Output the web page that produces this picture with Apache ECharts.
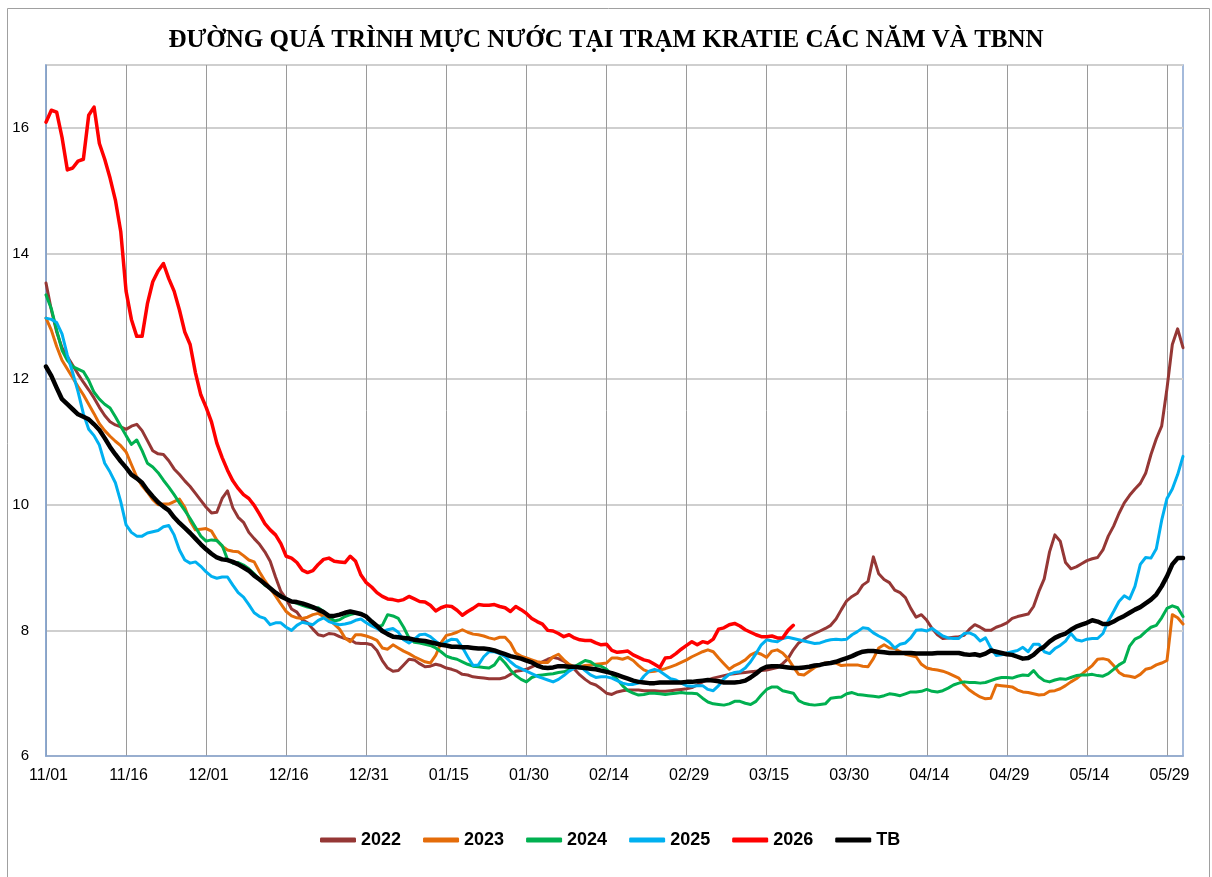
<!DOCTYPE html>
<html>
<head>
<meta charset="utf-8">
<script src="https://cdn.jsdelivr.net/npm/echarts@6/dist/echarts.min.js"></script>
<style>
html,body{margin:0;padding:0;background:#fff;}
#chart{width:1212px;height:877px;}
</style>
</head>
<body>
<div id="chart"></div>
<script>
// ---- data ----
var startDate = '2023-11-01';
var dayCount = 214;
var tickLabels = ['11/01','11/16','12/01','12/16','12/31','01/15','01/30','02/14','02/29','03/15','03/30','04/14','04/29','05/14','05/29'];
var seriesNames = ['2022','2023','2024','2025','2026','TB'];

var y2022 = [13.53,13.10,12.75,12.50,12.36,12.22,12.08,11.95,11.83,11.70,11.55,11.42,11.32,11.27,11.24,11.20,11.25,11.28,11.18,11.02,
10.86,10.81,10.80,10.70,10.57,10.48,10.38,10.29,10.18,10.07,9.96,9.87,9.88,10.10,10.22,9.95,9.80,9.72,9.56,9.46,
9.37,9.25,9.10,8.85,8.62,8.50,8.34,8.29,8.17,8.12,8.02,7.93,7.91,7.95,7.94,7.90,7.87,7.85,7.80,7.79,
7.79,7.77,7.68,7.52,7.40,7.35,7.36,7.45,7.54,7.53,7.47,7.42,7.43,7.46,7.44,7.40,7.38,7.35,7.30,7.29,
7.26,7.25,7.24,7.23,7.23,7.23,7.25,7.30,7.35,7.36,7.38,7.42,7.46,7.50,7.54,7.57,7.55,7.51,7.45,7.38,
7.29,7.22,7.16,7.13,7.07,7.00,6.98,7.02,7.04,7.05,7.05,7.05,7.04,7.04,7.04,7.03,7.03,7.04,7.05,7.06,
7.07,7.09,7.13,7.18,7.21,7.24,7.26,7.28,7.30,7.31,7.32,7.33,7.34,7.35,7.36,7.37,7.39,7.41,7.47,7.55,
7.69,7.80,7.86,7.91,7.95,7.99,8.03,8.08,8.18,8.33,8.47,8.54,8.59,8.72,8.78,9.17,8.90,8.81,8.76,8.64,
8.60,8.52,8.35,8.21,8.25,8.16,8.03,7.93,7.87,7.88,7.89,7.90,7.92,8.02,8.09,8.05,8.00,8.00,8.05,8.08,
8.12,8.19,8.22,8.24,8.26,8.38,8.62,8.82,9.25,9.52,9.42,9.08,8.98,9.01,9.06,9.11,9.14,9.16,9.28,9.50,
9.66,9.86,10.03,10.15,10.25,10.34,10.50,10.80,11.05,11.25,11.85,12.55,12.80,12.50];

var y2023 = [12.97,12.78,12.52,12.30,12.16,12.02,11.88,11.75,11.60,11.45,11.29,11.18,11.09,11.01,10.94,10.84,10.64,10.44,10.30,10.20,
10.08,10.00,10.01,10.01,10.05,10.09,9.96,9.74,9.60,9.61,9.62,9.58,9.44,9.34,9.28,9.26,9.25,9.19,9.12,9.09,
8.93,8.79,8.67,8.55,8.42,8.30,8.23,8.20,8.19,8.21,8.25,8.27,8.22,8.17,8.10,8.02,7.88,7.82,7.93,7.93,
7.91,7.88,7.84,7.72,7.70,7.77,7.72,7.67,7.63,7.58,7.54,7.50,7.48,7.60,7.80,7.92,7.94,7.97,8.01,7.97,
7.94,7.93,7.91,7.88,7.86,7.89,7.89,7.80,7.64,7.59,7.56,7.53,7.50,7.49,7.49,7.58,7.62,7.53,7.46,7.42,
7.42,7.44,7.45,7.46,7.47,7.48,7.56,7.56,7.54,7.57,7.52,7.44,7.37,7.34,7.35,7.37,7.39,7.42,7.45,7.49,
7.53,7.58,7.62,7.66,7.69,7.66,7.56,7.47,7.38,7.44,7.48,7.53,7.61,7.65,7.62,7.57,7.67,7.69,7.64,7.55,
7.42,7.30,7.29,7.35,7.41,7.45,7.48,7.49,7.48,7.44,7.45,7.45,7.45,7.43,7.42,7.55,7.72,7.77,7.72,7.71,
7.66,7.62,7.60,7.58,7.46,7.40,7.38,7.37,7.35,7.32,7.28,7.24,7.13,7.05,6.99,6.94,6.91,6.92,7.13,7.12,
7.11,7.10,7.05,7.02,7.01,6.99,6.97,6.98,7.03,7.04,7.07,7.12,7.18,7.23,7.30,7.37,7.44,7.54,7.55,7.53,
7.44,7.33,7.28,7.27,7.25,7.30,7.38,7.40,7.45,7.48,7.52,8.25,8.20,8.10];

var y2024 = [13.34,13.12,12.78,12.46,12.30,12.20,12.16,12.12,11.98,11.79,11.68,11.60,11.54,11.40,11.25,11.10,10.96,11.03,10.86,10.66,
10.60,10.51,10.39,10.28,10.16,10.03,9.91,9.78,9.64,9.50,9.42,9.44,9.43,9.35,9.13,9.07,9.08,9.04,8.98,8.90,
8.81,8.72,8.67,8.60,8.55,8.50,8.46,8.43,8.40,8.37,8.35,8.36,8.30,8.22,8.15,8.17,8.22,8.25,8.27,8.27,
8.22,8.13,8.06,8.08,8.25,8.23,8.19,8.05,7.88,7.81,7.80,7.78,7.76,7.72,7.66,7.59,7.56,7.54,7.50,7.46,
7.43,7.42,7.41,7.40,7.45,7.57,7.48,7.37,7.28,7.22,7.18,7.25,7.28,7.29,7.30,7.31,7.33,7.34,7.37,7.42,
7.47,7.52,7.50,7.44,7.43,7.38,7.30,7.22,7.12,7.04,7.00,6.97,6.98,7.00,7.00,6.99,6.98,6.99,7.00,7.01,
7.00,7.00,6.99,6.92,6.86,6.83,6.82,6.81,6.83,6.87,6.87,6.84,6.82,6.87,6.97,7.06,7.10,7.10,7.04,7.02,
7.00,6.88,6.84,6.82,6.81,6.82,6.83,6.92,6.93,6.94,6.99,7.01,6.98,6.97,6.96,6.95,6.94,6.96,6.99,6.98,
6.96,6.99,7.02,7.02,7.03,7.06,7.03,7.02,7.04,7.08,7.13,7.16,7.18,7.17,7.17,7.16,7.17,7.20,7.23,7.25,
7.25,7.24,7.27,7.29,7.28,7.36,7.26,7.20,7.18,7.21,7.23,7.22,7.25,7.28,7.29,7.29,7.30,7.28,7.27,7.31,
7.38,7.45,7.50,7.75,7.86,7.90,7.98,8.05,8.08,8.20,8.35,8.39,8.36,8.22];

var y2025 = [12.97,12.95,12.90,12.72,12.38,12.10,11.80,11.45,11.20,11.10,10.95,10.66,10.52,10.35,10.05,9.68,9.56,9.50,9.50,9.55,
9.57,9.59,9.65,9.67,9.52,9.28,9.12,9.07,9.09,9.02,8.93,8.86,8.83,8.85,8.85,8.72,8.60,8.53,8.41,8.28,
8.22,8.19,8.09,8.12,8.12,8.05,8.00,8.08,8.13,8.11,8.09,8.16,8.20,8.14,8.11,8.09,8.10,8.12,8.16,8.18,
8.12,8.07,8.03,7.98,8.01,8.03,7.97,7.85,7.80,7.86,7.93,7.94,7.90,7.83,7.76,7.82,7.86,7.85,7.73,7.58,
7.44,7.45,7.58,7.66,7.66,7.63,7.58,7.50,7.43,7.39,7.35,7.31,7.27,7.24,7.21,7.18,7.22,7.28,7.35,7.40,
7.43,7.36,7.29,7.25,7.26,7.26,7.24,7.20,7.16,7.14,7.14,7.16,7.27,7.35,7.38,7.35,7.29,7.23,7.21,7.16,
7.12,7.11,7.12,7.12,7.06,7.04,7.12,7.23,7.30,7.33,7.34,7.40,7.50,7.63,7.77,7.85,7.83,7.82,7.87,7.89,
7.87,7.85,7.83,7.81,7.79,7.80,7.83,7.85,7.86,7.85,7.86,7.93,7.98,8.04,8.03,7.96,7.91,7.87,7.81,7.72,
7.78,7.80,7.88,8.00,8.01,7.99,8.03,7.97,7.91,7.88,7.87,7.87,7.95,7.96,7.92,7.83,7.88,7.72,7.60,7.61,
7.64,7.66,7.68,7.73,7.66,7.78,7.78,7.66,7.63,7.71,7.76,7.83,7.95,7.85,7.83,7.86,7.87,7.87,7.95,8.15,
8.30,8.46,8.55,8.50,8.70,9.05,9.16,9.15,9.30,9.75,10.10,10.25,10.48,10.77];

var y2026 = [16.09,16.28,16.25,15.85,15.33,15.36,15.47,15.50,16.20,16.33,15.75,15.50,15.20,14.85,14.35,13.40,12.95,12.68,12.68,13.20,
13.55,13.72,13.84,13.60,13.40,13.10,12.75,12.55,12.10,11.75,11.55,11.32,10.98,10.75,10.55,10.38,10.26,10.16,10.10,9.99,
9.85,9.70,9.60,9.52,9.38,9.18,9.15,9.08,8.96,8.92,8.95,9.05,9.13,9.15,9.10,9.09,9.08,9.18,9.10,8.88,
8.76,8.69,8.60,8.54,8.50,8.49,8.47,8.49,8.54,8.50,8.46,8.45,8.40,8.31,8.36,8.39,8.38,8.32,8.24,8.30,
8.35,8.41,8.40,8.40,8.41,8.38,8.36,8.30,8.38,8.33,8.27,8.19,8.14,8.10,8.00,7.99,7.95,7.90,7.93,7.88,
7.85,7.84,7.84,7.80,7.77,7.78,7.68,7.65,7.66,7.67,7.61,7.57,7.53,7.51,7.46,7.41,7.56,7.57,7.63,7.70,
7.76,7.82,7.77,7.82,7.80,7.86,8.02,8.04,8.09,8.11,8.07,8.01,7.97,7.93,7.90,7.90,7.91,7.88,7.88,8.00,
8.08];

var yTB = [12.20,12.05,11.86,11.68,11.60,11.52,11.44,11.40,11.36,11.28,11.19,11.06,10.92,10.80,10.69,10.59,10.48,10.42,10.35,10.23,
10.13,10.04,9.97,9.91,9.80,9.71,9.63,9.55,9.46,9.37,9.29,9.22,9.16,9.13,9.12,9.09,9.05,9.00,8.95,8.87,
8.81,8.74,8.67,8.60,8.54,8.50,8.46,8.45,8.43,8.40,8.37,8.33,8.29,8.23,8.23,8.25,8.28,8.30,8.28,8.26,
8.22,8.14,8.07,7.99,7.94,7.90,7.89,7.88,7.87,7.85,7.84,7.83,7.81,7.79,7.77,7.76,7.74,7.74,7.73,7.73,
7.72,7.71,7.71,7.70,7.68,7.65,7.62,7.59,7.57,7.55,7.52,7.49,7.44,7.41,7.40,7.41,7.43,7.43,7.42,7.42,
7.41,7.40,7.39,7.38,7.36,7.34,7.32,7.29,7.26,7.23,7.20,7.18,7.17,7.16,7.16,7.17,7.17,7.17,7.17,7.17,
7.18,7.18,7.19,7.20,7.21,7.20,7.19,7.17,7.17,7.17,7.18,7.20,7.25,7.31,7.38,7.42,7.43,7.43,7.42,7.41,
7.40,7.40,7.41,7.42,7.44,7.45,7.47,7.48,7.50,7.53,7.56,7.59,7.63,7.66,7.67,7.67,7.66,7.65,7.64,7.64,
7.64,7.64,7.64,7.63,7.63,7.63,7.63,7.64,7.64,7.64,7.64,7.64,7.62,7.61,7.62,7.60,7.63,7.68,7.66,7.64,
7.62,7.61,7.58,7.55,7.56,7.61,7.69,7.74,7.82,7.88,7.92,7.95,8.01,8.06,8.09,8.12,8.16,8.14,8.10,8.10,
8.14,8.19,8.23,8.28,8.33,8.37,8.43,8.49,8.57,8.70,8.86,9.05,9.15,9.15];

var seriesColors = ['#953735','#E46C0A','#00B050','#00B0F0','#FF0000','#000000'];

// ---- categories (daily dates) ----
var categories = [];
(function(){
  var d = new Date(startDate + 'T00:00:00Z');
  for (var i = 0; i < dayCount; i++) {
    var m = d.getUTCMonth() + 1, dd = d.getUTCDate();
    categories.push((m < 10 ? '0' : '') + m + '/' + (dd < 10 ? '0' : '') + dd);
    d.setUTCDate(d.getUTCDate() + 1);
  }
})();

var chart = echarts.init(document.getElementById('chart'), null, {renderer: 'canvas'});
var allData = [y2022, y2023, y2024, y2025, y2026, yTB];
var widths = [3, 3, 3, 3, 3.5, 4.5];
var isTick = function (idx, val) { return tickLabels.indexOf(categories[idx]) >= 0; };

chart.setOption({
  animation: false,
  backgroundColor: '#ffffff',
  title: {
    text: 'ĐƯỜNG QUÁ TRÌNH MỰC NƯỚC TẠI TRẠM KRATIE CÁC NĂM VÀ TBNN',
    left: 'center', top: 23,
    textStyle: {fontFamily: 'Liberation Serif', fontWeight: 'bold', fontSize: 25, color: '#000'}
  },
  graphic: [{
    type: 'rect', left: 5, top: 6, shape: {width: 1202, height: 870},
    style: {fill: 'none', stroke: '#a0a0a0', lineWidth: 1}, silent: true, z: -1
  }],
  legend: {
    bottom: 23, left: 315,
    itemWidth: 36, itemHeight: 5, itemGap: 22,
    icon: 'roundRect',
    textStyle: {fontFamily: 'Liberation Sans', fontWeight: 'bold', fontSize: 18, color: '#000'},
    data: seriesNames
  },
  grid: {
    left: 46, right: 29, top: 65, bottom: 121,
    show: true, borderColor: '#86a4cf', borderWidth: 1.5
  },
  xAxis: {
    type: 'category', data: categories, boundaryGap: false,
    axisLine: {lineStyle: {color: '#86a4cf', width: 1.5}},
    axisTick: {show: false},
    axisLabel: {interval: isTick, color: '#000', fontFamily: 'Liberation Sans', fontSize: 16, margin: 12,
      padding: [0, 0, 0, 5]},
    splitLine: {show: true, interval: isTick, lineStyle: {color: '#9a9a9a', width: 1}}
  },
  yAxis: {
    type: 'value', min: 6, max: 17, interval: 2,
    axisLine: {show: true, lineStyle: {color: '#86a4cf', width: 1.5}},
    axisTick: {show: false},
    axisLabel: {color: '#000', fontFamily: 'Liberation Sans', fontSize: 15, margin: 17, showMaxLabel: false},
    splitLine: {lineStyle: {color: '#cfcfcf', width: 2}}
  },
  series: seriesNames.map(function (n, i) {
    return {
      name: n, type: 'line', data: allData[i], showSymbol: false, symbol: 'none',
      lineStyle: {color: seriesColors[i], width: widths[i], join: 'round', cap: 'round'},
      itemStyle: {color: seriesColors[i]},
      z: 2 + i
    };
  })
});
</script>
</body>
</html>
